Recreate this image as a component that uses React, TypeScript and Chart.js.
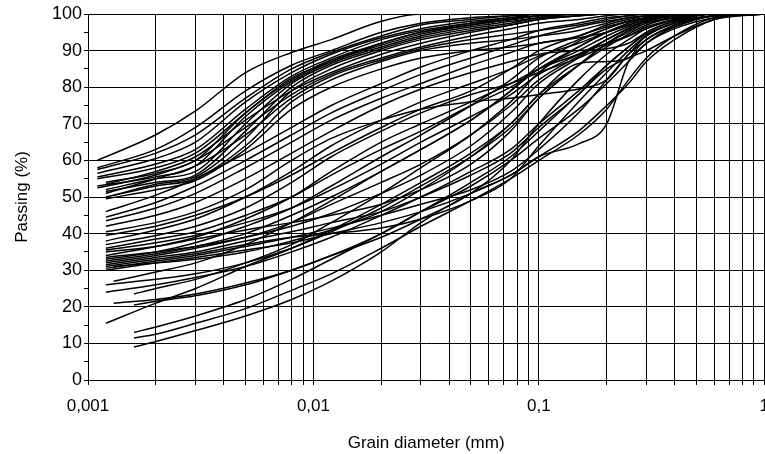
import React, { useEffect, useRef } from 'react';
import { Chart, registerables } from 'chart.js';

Chart.register(...registerables);

// Common sieve / hydrometer diameters (mm) after each curve's first point
const sieveDiameters = [0.002, 0.003, 0.005, 0.008, 0.012, 0.02, 0.03, 0.05, 0.075, 0.1, 0.15, 0.2, 0.25, 0.3, 0.4, 0.6, 1];

// First measured diameter of each curve (mm)
const startDiameters = [
  0.0011, 0.0011, 0.0011, 0.0011, 0.0011, 0.0012, 0.0011, 0.0012, 0.0012, 0.0013, 0.0012, 0.0011, 0.0012, 0.0012, 0.0011, 0.0012,
  0.0012, 0.0012, 0.0012, 0.0012, 0.0012, 0.0012,
  0.0012, 0.0012, 0.0012, 0.0012, 0.0012, 0.0012, 0.0012, 0.0012, 0.0012, 0.0012, 0.0012, 0.0012, 0.0012, 0.0012, 0.0013,
  0.0013, 0.0012, 0.0012, 0.0016, 0.0013, 0.0016, 0.0012,
  0.0016, 0.0016, 0.0016,
];

// Passing (%) per curve: first value at start diameter, then at sieveDiameters
const passing = [
  [60, 67, 73.5, 84, 89.5, 93, 98, 100, 100, 100, 100, 100, 100, 100, 100, 100, 100, 100],
  [58, 63, 69, 79, 86, 90, 95, 97.5, 99, 99.5, 100, 100, 100, 100, 100, 100, 100, 100],
  [57.5, 62, 67, 77, 85, 89.5, 94, 97, 98.5, 99.5, 100, 100, 100, 100, 100, 100, 100, 100],
  [56.5, 60.5, 65, 76, 84, 89, 93.5, 96, 98, 99, 99.5, 100, 100, 100, 100, 100, 100, 100],
  [55.5, 59, 63, 74, 83, 88, 93, 95.5, 97.5, 98.5, 99.5, 100, 100, 100, 100, 100, 100, 100],
  [54, 56.5, 60, 73, 82, 87.5, 92, 95, 97, 98.5, 99.5, 100, 100, 100, 100, 100, 100, 100],
  [53, 55.5, 58.5, 72, 81.5, 87, 91.5, 94.5, 97, 98.5, 99.5, 100, 100, 100, 100, 100, 100, 100],
  [52, 55, 57, 70, 81, 86.5, 91, 94, 96.5, 98, 99, 100, 100, 100, 100, 100, 100, 100],
  [51.5, 54, 56, 68, 80, 86, 90.5, 93.5, 96, 97.5, 99, 99.5, 100, 100, 100, 100, 100, 100],
  [50.5, 53.5, 55.5, 66, 79, 85, 90, 93, 95.5, 97, 98.5, 99.5, 100, 100, 100, 100, 100, 100],
  [53.5, 57, 61, 71, 79, 84, 89, 92, 95, 97, 98.5, 99.5, 100, 100, 100, 100, 100, 100],
  [52.5, 56, 60, 69, 78, 83.5, 88, 91, 94, 96, 97.5, 98.5, 99.5, 100, 100, 100, 100, 100],
  [51, 55, 58.5, 67, 77, 83, 87.5, 90.5, 93, 94.5, 95.5, 97, 98.5, 99.5, 100, 100, 100, 100],
  [50, 53, 55, 64, 76, 82, 87, 90, 92, 93, 94, 95.5, 97.5, 99, 99.5, 100, 100, 100],
  [55, 58, 62, 73, 82.5, 87, 92, 95, 97.5, 99, 100, 100, 100, 100, 100, 100, 100, 100],
  [49.5, 52, 54.5, 63, 74, 80, 85, 88, 90, 91, 92, 94, 97, 98.5, 99.5, 100, 100, 100],

  [46, 50.5, 55, 62, 69, 75, 81, 85.5, 90, 93, 95.5, 97.5, 99, 99.5, 100, 100, 100, 100],
  [44.5, 48.5, 53, 60, 67, 73, 79, 83.5, 88, 91.5, 94, 96.5, 98, 99, 99.5, 100, 100, 100],
  [43.5, 47, 51, 58, 65, 71, 77, 81, 86, 89.5, 92, 93.5, 95, 97, 98.5, 99.5, 100, 100],
  [42, 45, 48.5, 55, 62, 68, 75, 79.5, 84, 87, 89, 90, 90.5, 92, 95, 98, 99.5, 100],
  [40.5, 43, 46, 52, 60, 66, 71, 74, 76, 77, 78, 79.5, 82, 89, 93, 97, 99.5, 100],
  [39.5, 42, 45, 50, 56, 62, 69, 74, 79, 85, 90, 94, 96.5, 98, 99, 99.5, 100, 100],

  [38, 41, 44, 50, 57, 64, 71, 76, 81, 85, 88.5, 92, 95, 97, 98.5, 99.5, 100, 100],
  [37, 39.5, 42, 47, 54, 61, 68, 73, 78, 81, 84, 88, 91.5, 94, 96.5, 98.5, 100, 100],
  [36, 38.5, 40.5, 45, 50, 56, 63, 68, 75, 80, 85, 90, 94, 96.5, 98, 99.5, 100, 100],
  [35.5, 37.5, 39.5, 43, 47, 52, 59, 65, 72, 78, 83.5, 89, 93, 96, 98, 99.5, 100, 100],
  [35, 36.5, 38.5, 41, 43, 45, 48, 52, 59, 68, 77, 86, 92, 95, 97.5, 99, 100, 100],
  [33, 35, 37.5, 42, 47, 53, 61, 67, 75, 82, 88, 93, 96, 98, 99, 100, 100, 100],
  [32.5, 34.5, 36.5, 40, 45, 50, 57, 63, 71, 79, 85, 91, 95, 97.5, 99, 100, 100, 100],
  [32, 34, 36, 39, 43, 48, 54, 59, 67, 75, 82, 88.5, 93, 96, 98, 99.5, 100, 100],
  [31.5, 33.5, 35, 38, 40.5, 43, 46, 50, 56, 62, 69, 78, 86, 91, 95, 98, 100, 100],
  [31, 33, 34.5, 37, 39, 40, 41.5, 44, 49, 55, 64, 76, 84, 90, 94, 97.5, 99.5, 100],
  [30.5, 32.5, 34, 36.5, 39, 41.5, 45, 48, 52, 57, 63, 73, 82, 89, 94, 97.5, 99.5, 100],
  [30, 32, 33.5, 35.5, 37.5, 40, 43, 46, 51, 56, 61, 68, 75, 81, 87, 93, 98.5, 100],
  [34, 36.5, 39, 44, 50, 57, 65, 70, 76, 81, 85, 89, 92, 94, 96, 98.5, 100, 100],
  [33.5, 35, 36.5, 39, 42, 45.5, 51, 56, 64, 73, 81, 88, 93, 96, 98, 99.5, 100, 100],
  [31, 32, 33, 35, 38, 41, 46, 52, 61, 70, 78, 86, 91, 94.5, 97, 99, 100, 100],

  [27, 29.5, 32, 37, 43, 49, 57, 63, 71, 79, 86, 92.5, 96, 98, 99, 100, 100, 100],
  [26, 27.5, 29, 32, 36, 40.5, 47, 53, 61, 69, 77, 86, 92, 95.5, 97.5, 99, 100, 100],
  [24, 26, 28, 31, 35, 39, 45, 50, 57, 63, 70, 79, 86, 91, 94.5, 97.5, 99.5, 100],
  [23.5, 25, 27.5, 32, 37, 43, 51, 58, 67, 76, 84, 91, 95, 97.5, 99, 100, 100, 100],
  [21, 22, 23.5, 26.5, 30, 34, 39, 44, 51, 60, 70, 82, 89, 93, 96, 98.5, 100, 100],
  [20.5, 21.5, 23, 26, 30, 34, 40, 46, 54, 61, 68, 78, 85, 88, 90, 94, 98.5, 100],
  [15.5, 21, 25, 31, 36, 41, 48, 54, 62, 70, 78, 86.5, 87, 88, 92, 96, 99, 100],

  [13, 14.5, 17.5, 22, 27.5, 33, 40, 46, 53, 60, 66, 74, 81, 87, 92, 96.5, 99.5, 100],
  [11.5, 12.5, 15.5, 19.5, 24.5, 29, 36, 42, 49, 55, 60, 67, 74, 82, 88, 94, 99, 100],
  [9, 10.5, 13.5, 17.5, 22, 27, 35, 43, 51, 56, 61, 64.5, 70, 87, 93, 96.5, 99.5, 100],
];

const xMajorTicks = [0.001, 0.01, 0.1, 1];
const xMajorLabels = ['0,001', '0,01', '0,1', '1'];
const xMultipliers = [1, 2, 3, 4, 5, 6, 7, 8, 9];

const yMin = 0;
const yMax = 100;
const yStep = 5;
const yLabelStep = 10;

const FONT = "'Liberation Sans', Arial, Helvetica, sans-serif";

export default function App() {
  const canvasRef = useRef<HTMLCanvasElement | null>(null);

  useEffect(() => {
    document.body.style.margin = '0';
    document.body.style.overflow = 'hidden';
    document.documentElement.style.overflow = 'hidden';
    const canvas = canvasRef.current;
    if (!canvas) return;

    const xTickValues: number[] = [];
    xMajorTicks.forEach((m, i) => {
      if (i === xMajorTicks.length - 1) {
        xTickValues.push(m);
      } else {
        xMultipliers.forEach((k) => xTickValues.push(+(m * k).toPrecision(6)));
      }
    });

    const labelFor = (v: number) => {
      const idx = xMajorTicks.findIndex((m) => Math.abs(v - m) / m < 1e-6);
      return idx >= 0 ? xMajorLabels[idx] : '';
    };

    const datasets = passing.map((row, i) => ({
      data: row.map((p, j) => ({ x: j === 0 ? startDiameters[i] : sieveDiameters[j - 1], y: p })),
      borderColor: '#000',
      borderWidth: 1.5,
      pointRadius: 0,
      fill: false,
      cubicInterpolationMode: 'monotone' as const,
    }));

    const chart = new Chart(canvas, {
      type: 'line',
      data: { datasets },
      options: {
        animation: false,
        responsive: false,
        devicePixelRatio: 1,
        layout: { padding: { top: 14, right: 14, bottom: 0, left: 0 } },
        plugins: { legend: { display: false }, tooltip: { enabled: false } },
        scales: {
          x: {
            type: 'logarithmic',
            min: 0.001,
            max: 1,
            afterBuildTicks: (s: any) => {
              s.ticks = xTickValues.map((v) => ({ value: v }));
            },
            afterFit: (s: any) => {
              s.height = 74;
            },
            ticks: {
              autoSkip: false,
              maxRotation: 0,
              minRotation: 0,
              padding: 11,
              color: '#000',
              font: { family: FONT, size: 17 },
              callback: (v: any) => labelFor(Number(v)),
            },
            grid: { color: '#000', lineWidth: 1, tickLength: 5, drawTicks: true },
            border: { color: '#000', width: 1 },
            title: {
              display: true,
              text: 'Grain diameter (mm)',
              color: '#000',
              font: { family: FONT, size: 17 },
              padding: { top: 11, bottom: 0 },
            },
          },
          y: {
            type: 'linear',
            min: yMin,
            max: yMax,
            afterFit: (s: any) => {
              s.width = 88;
            },
            ticks: {
              stepSize: yStep,
              autoSkip: false,
              padding: 2,
              color: '#000',
              font: { family: FONT, size: 18 },
              callback: (v: any) => (Number(v) % yLabelStep === 0 ? String(v) : ''),
            },
            grid: {
              color: (ctx: any) => (ctx.tick && ctx.tick.value % yLabelStep === 0 ? '#000' : 'rgba(0,0,0,0)'),
              tickColor: '#000',
              lineWidth: 1,
              tickLength: 4,
              drawTicks: true,
            },
            border: { color: '#000', width: 1 },
            title: {
              display: true,
              text: 'Passing (%)',
              color: '#000',
              font: { family: FONT, size: 17 },
              padding: { top: 12, bottom: 0 },
            },
          },
        },
      },
    });

    return () => chart.destroy();
  }, []);

  return (
    <div style={{ position: 'fixed', left: 0, top: 0, width: 780, height: 454, background: '#fff' }}>
      <canvas ref={canvasRef} width={780} height={454} style={{ display: 'block', width: 780, height: 454 }} />
    </div>
  );
}
